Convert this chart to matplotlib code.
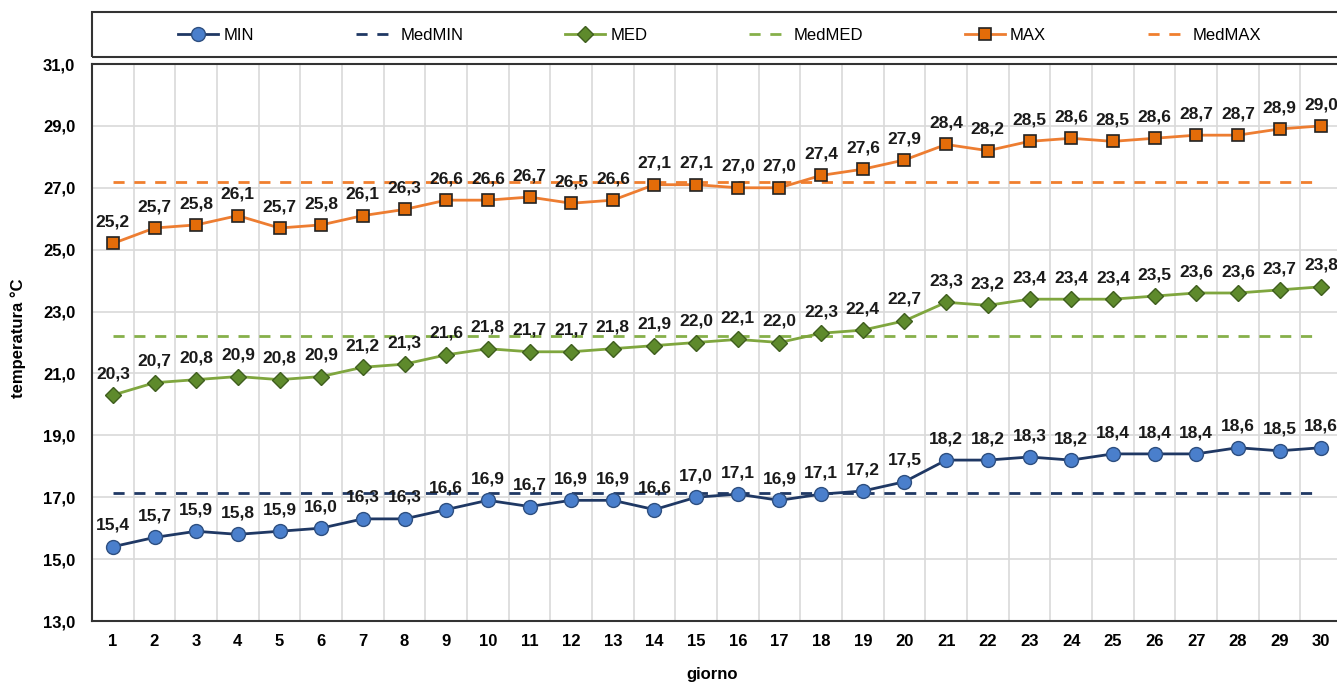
import matplotlib.pyplot as plt
from matplotlib.patches import Rectangle

plt.rcParams['font.family'] = ['Liberation Sans', 'DejaVu Sans']

giorni = list(range(1, 31))
t_min = [15.4, 15.7, 15.9, 15.8, 15.9, 16.0, 16.3, 16.3, 16.6, 16.9, 16.7, 16.9, 16.9, 16.6, 17.0,
         17.1, 16.9, 17.1, 17.2, 17.5, 18.2, 18.2, 18.3, 18.2, 18.4, 18.4, 18.4, 18.6, 18.5, 18.6]
t_med = [20.3, 20.7, 20.8, 20.9, 20.8, 20.9, 21.2, 21.3, 21.6, 21.8, 21.7, 21.7, 21.8, 21.9, 22.0,
         22.1, 22.0, 22.3, 22.4, 22.7, 23.3, 23.2, 23.4, 23.4, 23.4, 23.5, 23.6, 23.6, 23.7, 23.8]
t_max = [25.2, 25.7, 25.8, 26.1, 25.7, 25.8, 26.1, 26.3, 26.6, 26.6, 26.7, 26.5, 26.6, 27.1, 27.1,
         27.0, 27.0, 27.4, 27.6, 27.9, 28.4, 28.2, 28.5, 28.6, 28.5, 28.6, 28.7, 28.7, 28.9, 29.0]
med_min = 17.15
med_med = 22.2
med_max = 27.2
y_ticks = [13, 15, 17, 19, 21, 23, 25, 27, 29, 31]

W, H = 1337, 684
fig = plt.figure(figsize=(W / 100, H / 100), dpi=100)
# il grafico originale e' tagliato sul lato destro
ax = fig.add_axes([92 / W, 1 - 621 / H, (1342 - 92) / W, (621 - 64) / H])

# serie giornaliere
ax.plot(giorni, t_min, color='#1F3864', lw=2, marker='o', ms=10,
        mfc='#4A7FCC', mec='#2E4F80', mew=1, label='MIN', zorder=5)
ax.plot(giorni, [med_min] * 30, color='#1F3864', lw=2, ls=(0, (4, 3.5)), label='MedMIN', zorder=3)
ax.plot(giorni, t_med, color='#7FA63E', lw=2, marker='D', ms=8.5,
        mfc='#5E8A2C', mec='#3F5E1E', mew=1, label='MED', zorder=5)
ax.plot(giorni, [med_med] * 30, color='#86B04A', lw=2, ls=(0, (4, 3.5)), label='MedMED', zorder=3)
ax.plot(giorni, t_max, color='#ED7D31', lw=2, marker='s', ms=9,
        mfc='#E36C09', mec='#222222', mew=1.2, label='MAX', zorder=5)
ax.plot(giorni, [med_max] * 30, color='#F07F2E', lw=2, ls=(0, (4, 3.5)), label='MedMAX', zorder=3)

# etichette valori
for serie in (t_min, t_med, t_max):
    for g, v in zip(giorni, serie):
        ax.annotate(f'{v:.1f}'.replace('.', ','), (g, v), xytext=(0, 10),
                    textcoords='offset points', ha='center', va='bottom',
                    fontsize=12.5, fontweight='bold', color='#1a1a1a', zorder=6,
                    annotation_clip=False)

ax.set_xlim(0.5, 30.5)
ax.set_ylim(13, 31)
ax.set_yticks(y_ticks)
ax.set_yticklabels([f'{v:.1f}'.replace('.', ',') for v in y_ticks])
ax.set_xticks(giorni)
ax.set_xticks([g + 0.5 for g in giorni[:-1]], minor=True)
ax.tick_params(axis='both', which='both', length=0, labelsize=12)
ax.tick_params(axis='y', pad=12)
ax.tick_params(axis='x', pad=9)
for lab in ax.get_xticklabels() + ax.get_yticklabels():
    lab.set_fontweight('bold')
ax.grid(axis='y', which='major', color='#D9D9D9', lw=1.2)
ax.grid(axis='x', which='minor', color='#D9D9D9', lw=1.2)
ax.set_axisbelow(True)
for s in ax.spines.values():
    s.set_color('#333333')
    s.set_linewidth(1.5)

fig.text(18 / W, 1 - 338 / H, 'temperatura °C', rotation=90, ha='center', va='center',
         fontsize=12, fontweight='bold')
fig.text(712 / W, 1 - 675 / H, 'giorno', ha='center', va='center',
         fontsize=12, fontweight='bold')

# riquadro legenda
fig.patches.append(Rectangle((92 / W, 1 - 57 / H), (1345 - 92) / W, 45 / H, transform=fig.transFigure,
                             fill=False, ec='#333333', lw=1.5))
handles, labels = ax.get_legend_handles_labels()
fig.legend(handles, labels, loc='center', bbox_to_anchor=(720 / W, 1 - 35 / H), ncol=6,
           frameon=False, fontsize=12, handlelength=2.4, handletextpad=0.3, columnspacing=6.1)

fig.savefig('out.png', dpi=100)
